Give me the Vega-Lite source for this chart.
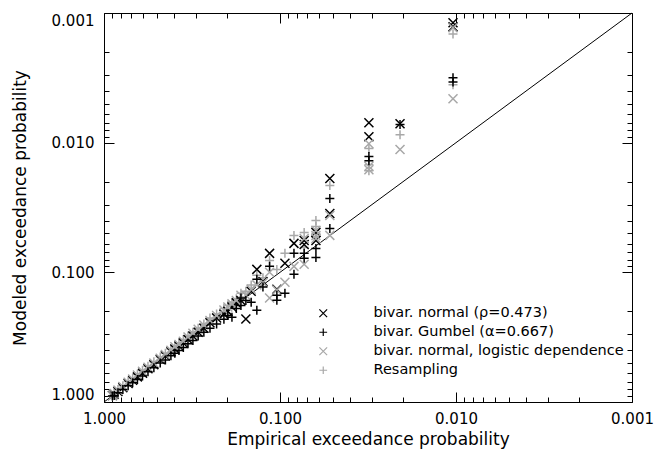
{
  "$schema": "https://vega.github.io/schema/vega-lite/v6.json",
  "width": 528,
  "height": 389,
  "autosize": {"type": "none"},
  "padding": {"left": 104, "top": 13, "right": 35, "bottom": 51},
  "background": "white",
  "config": {
    "view": {"stroke": null},
    "font": "DejaVu Sans",
    "axis": {
      "grid": false,
      "domainColor": "black",
      "domainWidth": 1,
      "tickColor": "black",
      "tickWidth": 1,
      "labelColor": "black",
      "titleColor": "black",
      "labelFont": "DejaVu Sans",
      "titleFont": "DejaVu Sans",
      "labelFontSize": 15,
      "titleFontSize": 17,
      "titleFontWeight": "normal",
      "labelOverlap": false,
      "labelBound": false,
      "labelFlush": false,
      "values": [1, 0.9, 0.8, 0.7, 0.6, 0.5, 0.4, 0.3, 0.2, 0.1, 0.09, 0.08, 0.07, 0.06, 0.05, 0.04, 0.03, 0.02, 0.01, 0.009, 0.008, 0.007, 0.006, 0.005, 0.004, 0.003, 0.002, 0.001],
      "labelExpr": "indexof([1,0.1,0.01,0.001], datum.value) >= 0 ? format(datum.value, '.3f') : ''",
      "tickSize": {"condition": {"test": "indexof([1,0.1,0.01,0.001], datum.value) >= 0", "value": -10}, "value": -5}
    }
  },
  "layer": [
    {
      "data": {"values": [{"x": 1, "y": 1}, {"x": 0.001, "y": 0.001}]},
      "mark": {"type": "line", "color": "black", "strokeWidth": 1},
      "encoding": {
        "x": {"field": "x", "type": "quantitative", "scale": {"type": "log", "domain": [1, 0.001], "nice": false},
              "axis": {"orient": "bottom", "title": "Empirical exceedance probability", "labelPadding": 19, "titlePadding": 0}},
        "y": {"field": "y", "type": "quantitative", "scale": {"type": "log", "domain": [1, 0.001], "nice": false},
              "axis": {"orient": "left", "title": "Modeled exceedance probability", "labelPadding": 20, "titlePadding": 22, "labelFlush": true}}
      }
    },
    {
      "data": {"values": [
        {"s": "N", "x": 0.0104, "y": 0.00119}, {"s": "N", "x": 0.0104, "y": 0.00128},
        {"s": "G", "x": 0.0104, "y": 0.00316}, {"s": "G", "x": 0.0104, "y": 0.0034},
        {"s": "L", "x": 0.0104, "y": 0.0013}, {"s": "L", "x": 0.0104, "y": 0.00459},
        {"s": "R", "x": 0.0104, "y": 0.00145}, {"s": "R", "x": 0.0104, "y": 0.00358},
        {"s": "N", "x": 0.0208, "y": 0.00714}, {"s": "G", "x": 0.0208, "y": 0.00725},
        {"s": "R", "x": 0.0208, "y": 0.00868}, {"s": "L", "x": 0.0208, "y": 0.0113},
        {"s": "N", "x": 0.03125, "y": 0.00702}, {"s": "N", "x": 0.03125, "y": 0.00899},
        {"s": "G", "x": 0.03125, "y": 0.0128}, {"s": "G", "x": 0.03125, "y": 0.0138},
        {"s": "L", "x": 0.03125, "y": 0.0102}, {"s": "L", "x": 0.03125, "y": 0.0152}, {"s": "L", "x": 0.03125, "y": 0.0162},
        {"s": "R", "x": 0.03125, "y": 0.0111}, {"s": "R", "x": 0.03125, "y": 0.0148}, {"s": "R", "x": 0.03125, "y": 0.0165},
        {"s": "N", "x": 0.0521, "y": 0.0189}, {"s": "N", "x": 0.0521, "y": 0.0352},
        {"s": "G", "x": 0.0521, "y": 0.027}, {"s": "G", "x": 0.0521, "y": 0.0459},
        {"s": "R", "x": 0.0521, "y": 0.0214}, {"s": "L", "x": 0.0521, "y": 0.0365}, {"s": "L", "x": 0.0521, "y": 0.0519},
        {"s": "N", "x": 0.0625, "y": 0.0492}, {"s": "N", "x": 0.0625, "y": 0.0568},
        {"s": "G", "x": 0.0625, "y": 0.0654}, {"s": "G", "x": 0.0625, "y": 0.0767},
        {"s": "L", "x": 0.0625, "y": 0.0475}, {"s": "L", "x": 0.0625, "y": 0.0548}, {"s": "L", "x": 0.0625, "y": 0.052},
        {"s": "R", "x": 0.0625, "y": 0.0398}, {"s": "R", "x": 0.0625, "y": 0.0443}, {"s": "R", "x": 0.0625, "y": 0.05},
        {"s": "N", "x": 0.0729, "y": 0.0568}, {"s": "N", "x": 0.0729, "y": 0.0609},
        {"s": "G", "x": 0.0729, "y": 0.0714}, {"s": "G", "x": 0.0729, "y": 0.078},
        {"s": "L", "x": 0.0729, "y": 0.0548}, {"s": "L", "x": 0.0729, "y": 0.0867},
        {"s": "R", "x": 0.0729, "y": 0.0492}, {"s": "R", "x": 0.0729, "y": 0.0643},
        {"s": "N", "x": 0.0833, "y": 0.0598}, {"s": "G", "x": 0.0833, "y": 0.0714}, {"s": "G", "x": 0.0833, "y": 0.1036},
        {"s": "R", "x": 0.0833, "y": 0.0519}, {"s": "L", "x": 0.0833, "y": 0.09},
        {"s": "R", "x": 0.09375, "y": 0.0714}, {"s": "L", "x": 0.09375, "y": 0.1194}, {"s": "G", "x": 0.09375, "y": 0.145}, {"s": "N", "x": 0.09375, "y": 0.085},
        {"s": "N", "x": 0.1042, "y": 0.135}, {"s": "G", "x": 0.1042, "y": 0.15}, {"s": "G", "x": 0.1042, "y": 0.164},
        {"s": "L", "x": 0.1042, "y": 0.137}, {"s": "R", "x": 0.1042, "y": 0.095},
        {"s": "N", "x": 0.1146, "y": 0.0714}, {"s": "G", "x": 0.1146, "y": 0.0899}, {"s": "R", "x": 0.1146, "y": 0.0809},
        {"s": "L", "x": 0.1146, "y": 0.158}, {"s": "L", "x": 0.1146, "y": 0.1},
        {"s": "G", "x": 0.125, "y": 0.13}, {"s": "R", "x": 0.125, "y": 0.11}, {"s": "L", "x": 0.125, "y": 0.12}, {"s": "N", "x": 0.125, "y": 0.118},
        {"s": "N", "x": 0.1354, "y": 0.0949}, {"s": "G", "x": 0.1354, "y": 0.1132}, {"s": "G", "x": 0.1354, "y": 0.196},
        {"s": "R", "x": 0.1354, "y": 0.1055}, {"s": "L", "x": 0.1354, "y": 0.125},
        {"s": "G", "x": 0.1458, "y": 0.17}, {"s": "N", "x": 0.1458, "y": 0.14}, {"s": "L", "x": 0.1458, "y": 0.135}, {"s": "R", "x": 0.1458, "y": 0.125},
        {"s": "N", "x": 0.1563, "y": 0.229}, {"s": "G", "x": 0.1563, "y": 0.165}, {"s": "L", "x": 0.1563, "y": 0.15}, {"s": "R", "x": 0.1563, "y": 0.14},
        {"s": "N", "x": 0.1667, "y": 0.165}, {"s": "G", "x": 0.1667, "y": 0.158}, {"s": "G", "x": 0.1667, "y": 0.18}, {"s": "L", "x": 0.1667, "y": 0.15}, {"s": "R", "x": 0.1667, "y": 0.145},
        {"s": "N", "x": 0.1771, "y": 0.172}, {"s": "G", "x": 0.1771, "y": 0.19}, {"s": "L", "x": 0.1771, "y": 0.165}, {"s": "R", "x": 0.1771, "y": 0.16},
        {"s": "N", "x": 0.1875, "y": 0.185}, {"s": "G", "x": 0.1875, "y": 0.222}, {"s": "L", "x": 0.1875, "y": 0.175}, {"s": "R", "x": 0.1875, "y": 0.17},
        {"s": "N", "x": 0.1979, "y": 0.2}, {"s": "G", "x": 0.1979, "y": 0.215}, {"s": "L", "x": 0.1979, "y": 0.185}, {"s": "R", "x": 0.1979, "y": 0.18},
        {"s": "N", "x": 0.2083, "y": 0.21}, {"s": "G", "x": 0.2083, "y": 0.23}, {"s": "L", "x": 0.2083, "y": 0.195}, {"s": "R", "x": 0.2083, "y": 0.19},
        {"s": "N", "x": 0.2292, "y": 0.225}, {"s": "G", "x": 0.2292, "y": 0.25}, {"s": "L", "x": 0.2292, "y": 0.215}, {"s": "R", "x": 0.2292, "y": 0.21},
        {"s": "N", "x": 0.25, "y": 0.245}, {"s": "G", "x": 0.25, "y": 0.27}, {"s": "L", "x": 0.25, "y": 0.235}, {"s": "R", "x": 0.25, "y": 0.225},
        {"s": "N", "x": 0.2708, "y": 0.27}, {"s": "G", "x": 0.2708, "y": 0.29}, {"s": "L", "x": 0.2708, "y": 0.255}, {"s": "R", "x": 0.2708, "y": 0.25},
        {"s": "N", "x": 0.2917, "y": 0.29}, {"s": "G", "x": 0.2917, "y": 0.31}, {"s": "L", "x": 0.2917, "y": 0.275}, {"s": "R", "x": 0.2917, "y": 0.27},
        {"s": "N", "x": 0.3125, "y": 0.31}, {"s": "G", "x": 0.3125, "y": 0.335}, {"s": "L", "x": 0.3125, "y": 0.295}, {"s": "R", "x": 0.3125, "y": 0.29},
        {"s": "N", "x": 0.3333, "y": 0.33}, {"s": "G", "x": 0.3333, "y": 0.355}, {"s": "L", "x": 0.3333, "y": 0.315}, {"s": "R", "x": 0.3333, "y": 0.31},
        {"s": "N", "x": 0.3542, "y": 0.35}, {"s": "G", "x": 0.3542, "y": 0.38}, {"s": "L", "x": 0.3542, "y": 0.34}, {"s": "R", "x": 0.3542, "y": 0.33},
        {"s": "N", "x": 0.375, "y": 0.37}, {"s": "G", "x": 0.375, "y": 0.4}, {"s": "L", "x": 0.375, "y": 0.36}, {"s": "R", "x": 0.375, "y": 0.35},
        {"s": "N", "x": 0.3958, "y": 0.39}, {"s": "G", "x": 0.3958, "y": 0.42}, {"s": "L", "x": 0.3958, "y": 0.375}, {"s": "R", "x": 0.3958, "y": 0.37},
        {"s": "N", "x": 0.4167, "y": 0.41}, {"s": "G", "x": 0.4167, "y": 0.44}, {"s": "L", "x": 0.4167, "y": 0.4}, {"s": "R", "x": 0.4167, "y": 0.39},
        {"s": "N", "x": 0.4479, "y": 0.44}, {"s": "G", "x": 0.4479, "y": 0.475}, {"s": "L", "x": 0.4479, "y": 0.43}, {"s": "R", "x": 0.4479, "y": 0.42},
        {"s": "N", "x": 0.4792, "y": 0.47}, {"s": "G", "x": 0.4792, "y": 0.5}, {"s": "L", "x": 0.4792, "y": 0.46}, {"s": "R", "x": 0.4792, "y": 0.45},
        {"s": "N", "x": 0.5208, "y": 0.515}, {"s": "G", "x": 0.5208, "y": 0.545}, {"s": "L", "x": 0.5208, "y": 0.5}, {"s": "R", "x": 0.5208, "y": 0.49},
        {"s": "N", "x": 0.5625, "y": 0.555}, {"s": "G", "x": 0.5625, "y": 0.585}, {"s": "L", "x": 0.5625, "y": 0.54}, {"s": "R", "x": 0.5625, "y": 0.53},
        {"s": "N", "x": 0.6042, "y": 0.6}, {"s": "G", "x": 0.6042, "y": 0.63}, {"s": "L", "x": 0.6042, "y": 0.58}, {"s": "R", "x": 0.6042, "y": 0.57},
        {"s": "N", "x": 0.6458, "y": 0.64}, {"s": "G", "x": 0.6458, "y": 0.67}, {"s": "L", "x": 0.6458, "y": 0.62}, {"s": "R", "x": 0.6458, "y": 0.61},
        {"s": "N", "x": 0.6875, "y": 0.68}, {"s": "G", "x": 0.6875, "y": 0.71}, {"s": "L", "x": 0.6875, "y": 0.665}, {"s": "R", "x": 0.6875, "y": 0.655},
        {"s": "N", "x": 0.7292, "y": 0.72}, {"s": "G", "x": 0.7292, "y": 0.75}, {"s": "L", "x": 0.7292, "y": 0.705}, {"s": "R", "x": 0.7292, "y": 0.695},
        {"s": "N", "x": 0.7813, "y": 0.775}, {"s": "G", "x": 0.7813, "y": 0.8}, {"s": "L", "x": 0.7813, "y": 0.76}, {"s": "R", "x": 0.7813, "y": 0.75},
        {"s": "N", "x": 0.8333, "y": 0.83}, {"s": "G", "x": 0.8333, "y": 0.85}, {"s": "L", "x": 0.8333, "y": 0.81}, {"s": "R", "x": 0.8333, "y": 0.8},
        {"s": "N", "x": 0.875, "y": 0.87}, {"s": "G", "x": 0.875, "y": 0.89}, {"s": "L", "x": 0.875, "y": 0.86}, {"s": "R", "x": 0.875, "y": 0.85},
        {"s": "N", "x": 0.8958, "y": 0.89}, {"s": "G", "x": 0.8958, "y": 0.9}, {"s": "L", "x": 0.8958, "y": 0.9}, {"s": "R", "x": 0.8958, "y": 0.9}
      ]},
      "mark": {"type": "point", "filled": false, "strokeWidth": 1.5, "opacity": 1, "size": 81},
      "encoding": {
        "x": {"field": "x", "type": "quantitative", "scale": {"type": "log", "domain": [1, 0.001], "nice": false},
              "axis": {"orient": "top", "title": null, "labels": false}},
        "y": {"field": "y", "type": "quantitative", "scale": {"type": "log", "domain": [1, 0.001], "nice": false},
              "axis": {"orient": "right", "title": null, "labels": false}},
        "shape": {"field": "s", "type": "nominal",
          "scale": {"domain": ["N", "G", "L", "R"], "range": ["M-1,-1L1,1M-1,1L1,-1", "M-1,0L1,0M0,-1L0,1", "M-1,-1L1,1M-1,1L1,-1", "M-1,0L1,0M0,-1L0,1"]},
          "legend": {
            "orient": "none", "legendX": 212, "legendY": 293, "title": null, "padding": 0,
            "labelFont": "DejaVu Sans", "labelFontSize": 14.5, "labelOffset": 43, "rowPadding": 4,
            "symbolSize": 60, "symbolStrokeWidth": 1.2, "labelLimit": 400,
            "labelExpr": "datum.value == 'N' ? 'bivar. normal (ρ=0.473)' : datum.value == 'G' ? 'bivar. Gumbel (α=0.667)' : datum.value == 'L' ? 'bivar. normal, logistic dependence' : 'Resampling'",
            "encode": {"labels": {"update": {"fill": [{"test": "datum.value == 'L' || datum.value == 'R'", "value": "#a8a8a8"}, {"value": "black"}]}}}
          }},
        "color": {"field": "s", "type": "nominal",
          "scale": {"domain": ["N", "G", "L", "R"], "range": ["black", "black", "#a8a8a8", "#a8a8a8"]}},
        "order": {"field": "s", "sort": "descending"}
      }
    }
  ],
  "resolve": {"axis": {"x": "independent", "y": "independent"}}
}
